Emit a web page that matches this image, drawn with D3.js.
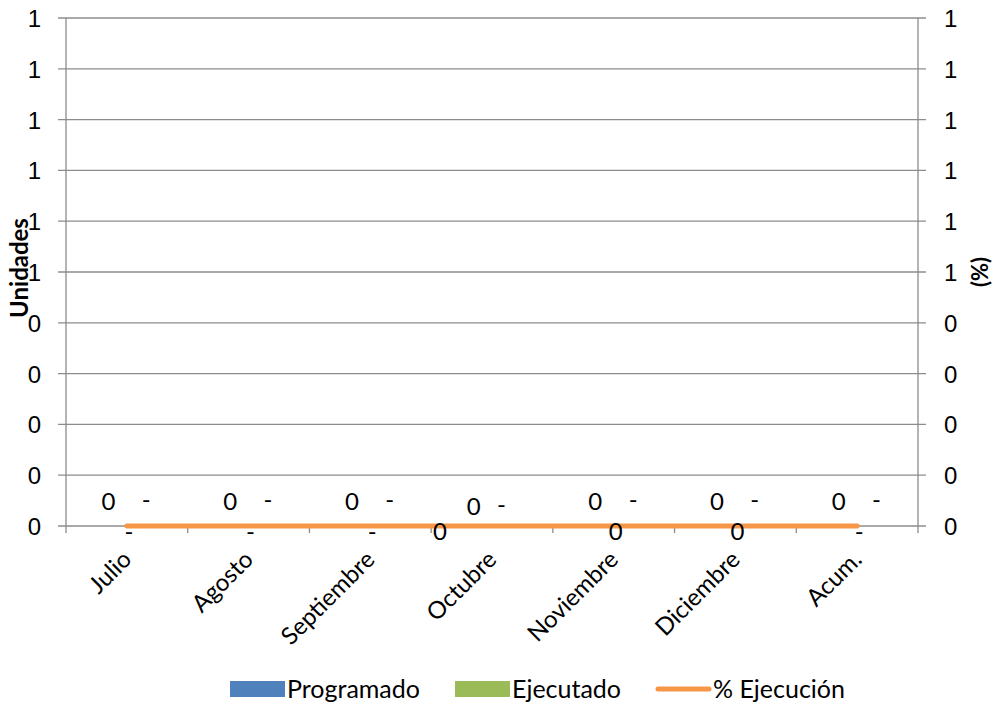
<!DOCTYPE html>
<html>
<head>
<meta charset="utf-8">
<style>
  body { margin: 0; background: #fff; }
  svg { font-family: Lato, "Open Sans", sans-serif; }
  .tick text { font-size: 24px; fill: #000; }
</style>
</head>
<body>
<div id="chart"></div>
<script src="https://d3js.org/d3.v7.min.js"></script>
<script>
  var categories = ["Julio", "Agosto", "Septiembre", "Octubre", "Noviembre", "Diciembre", "Acum."];
  var programado = [0, 0, 0, 0, 0, 0, 0];
  var ejecutado = [0, 0, 0, 0, 0, 0, 0];
  var ejecutadoLabels = ["-", "-", "-", "-", "-", "-", "-"];
  var ejecucion = [0, 0, 0, 0, 0, 0, 0];
  var ejecucionLabels = ["-", "-", "-", "0", "0", "0", "-"];
  var leftTicks = [0, 0.1, 0.2, 0.3, 0.4, 0.5, 0.6, 0.7, 0.8, 0.9, 1];
  var rightTicks = [0, 0.1, 0.2, 0.3, 0.4, 0.5, 0.6, 0.7, 0.8, 0.9, 1];

  var W = 996, H = 705;
  var margin = { top: 18, right: 78, bottom: 179, left: 66 },
    width = W - margin.left - margin.right,
    height = H - margin.top - margin.bottom;

  var colors = { prog: "#4F81BD", ejec: "#9BBB59", pct: "#F79646" };
  var fs = 24;

  // Excel moved a few labels around to avoid collisions
  var nudge = {
    "Octubre": { prog: [0, 5], ejec: [-10, 5], pct: [-54, 0] }
  };
  function nd(cat, key) {
    return (nudge[cat] && nudge[cat][key]) || [0, 0];
  }

  var svg = d3.select("#chart").append("svg")
    .attr("width", W)
    .attr("height", H);

  var g = svg.append("g")
    .attr("transform", "translate(" + margin.left + "," + margin.top + ")");

  var x = d3.scaleBand().domain(categories).range([0, width]);
  var x1 = d3.scaleBand().domain(["prog", "ejec"]).range([0, x.bandwidth()])
    .paddingInner(0).paddingOuter(0.75);
  var y = d3.scaleLinear().domain([0, 1]).range([height, 0]);
  var y2 = d3.scaleLinear().domain([0, 1]).range([height, 0]);

  // gridlines
  g.append("g").selectAll("line")
    .data(leftTicks)
    .enter().append("line")
    .attr("x1", -8).attr("x2", width + 8)
    .attr("y1", function(d) { return y(d); })
    .attr("y2", function(d) { return y(d); })
    .attr("stroke", "#8c8c8c")
    .attr("stroke-width", 1.3);

  // left axis
  var yAxis = d3.axisLeft(y).tickValues(leftTicks)
    .tickSize(0).tickPadding(25)
    .tickFormat(function(d) { return Math.round(d); });
  var ya = g.append("g").call(yAxis);
  ya.select(".domain").remove();
  ya.selectAll("text").attr("dy", "0.35em");

  // right axis
  var y2Axis = d3.axisRight(y2).tickValues(rightTicks)
    .tickSize(0).tickPadding(26)
    .tickFormat(function(d) { return Math.round(d); });
  var ya2 = g.append("g").attr("transform", "translate(" + width + ",0)").call(y2Axis);
  ya2.select(".domain").remove();
  ya2.selectAll("text").attr("dy", "0.35em");

  // vertical axis lines
  g.append("line").attr("x1", 0).attr("x2", 0).attr("y1", 0).attr("y2", height + 7)
    .attr("stroke", "#8c8c8c").attr("stroke-width", 1.3);
  g.append("line").attr("x1", width).attr("x2", width).attr("y1", 0).attr("y2", height + 7)
    .attr("stroke", "#8c8c8c").attr("stroke-width", 1.3);

  // x axis ticks at band boundaries
  g.append("g").selectAll("line")
    .data(categories.slice(1))
    .enter().append("line")
    .attr("x1", function(d) { return x(d); })
    .attr("x2", function(d) { return x(d); })
    .attr("y1", height).attr("y2", height + 7)
    .attr("stroke", "#8c8c8c").attr("stroke-width", 1.3);

  // x labels
  g.append("g").selectAll("text")
    .data(categories)
    .enter().append("text")
    .attr("transform", function(d) {
      return "translate(" + (x(d) + x.bandwidth() / 2 + 6) + "," + (height + 35) + ") rotate(-45)";
    })
    .attr("text-anchor", "end")
    .attr("font-size", fs)
    .attr("fill", "#000")
    .text(function(d) { return d; });

  // bars
  var rows = categories.map(function(c, i) {
    return { cat: c, prog: programado[i], ejec: ejecutado[i], ejecLabel: ejecutadoLabels[i],
      pct: ejecucion[i], pctLabel: ejecucionLabels[i] };
  });

  var grp = g.append("g").selectAll("g")
    .data(rows)
    .enter().append("g")
    .attr("transform", function(d) { return "translate(" + x(d.cat) + ",0)"; });

  grp.append("rect")
    .attr("x", x1("prog"))
    .attr("width", x1.bandwidth())
    .attr("y", function(d) { return y(d.prog); })
    .attr("height", function(d) { return height - y(d.prog); })
    .attr("fill", colors.prog);

  grp.append("rect")
    .attr("x", x1("ejec"))
    .attr("width", x1.bandwidth())
    .attr("y", function(d) { return y(d.ejec); })
    .attr("height", function(d) { return height - y(d.ejec); })
    .attr("fill", colors.ejec);

  grp.append("text")
    .attr("x", function(d) { return x1("prog") + x1.bandwidth() / 2 - 1 + nd(d.cat, "prog")[0]; })
    .attr("y", function(d) { return y(d.prog) - 16 + nd(d.cat, "prog")[1]; })
    .attr("text-anchor", "middle")
    .attr("font-size", fs)
    .text(function(d) { return d.prog; });

  grp.append("text")
    .attr("x", function(d) { return x1("ejec") + x1.bandwidth() / 2 + 2 + nd(d.cat, "ejec")[0]; })
    .attr("y", function(d) { return y(d.ejec) - 18 + nd(d.cat, "ejec")[1]; })
    .attr("text-anchor", "middle")
    .attr("font-size", fs)
    .text(function(d) { return d.ejecLabel; });

  // % Ejecucion line
  var line = d3.line()
    .x(function(d) { return x(d.cat) + x.bandwidth() / 2; })
    .y(function(d) { return y2(d.pct); });

  g.append("path")
    .datum(rows)
    .attr("d", line)
    .attr("fill", "none")
    .attr("stroke", colors.pct)
    .attr("stroke-width", 5)
    .attr("stroke-linecap", "round");

  g.append("g").selectAll("text")
    .data(rows)
    .enter().append("text")
    .attr("x", function(d) { return x(d.cat) + x.bandwidth() / 2 + 2 + nd(d.cat, "pct")[0]; })
    .attr("y", function(d) { return y2(d.pct) + 14 + nd(d.cat, "pct")[1]; })
    .attr("text-anchor", "middle")
    .attr("font-size", fs)
    .text(function(d) { return d.pctLabel; });

  // axis titles
  svg.append("text")
    .attr("transform", "translate(28,268) rotate(-90)")
    .attr("text-anchor", "middle")
    .attr("font-size", fs)
    .attr("font-weight", "bold")
    .text("Unidades");

  svg.append("text")
    .attr("transform", "translate(988,272) rotate(-90)")
    .attr("text-anchor", "middle")
    .attr("font-size", 22)
    .attr("font-weight", "bold")
    .text("(%)");

  // legend
  var legend = svg.append("g");
  var items = [
    { name: "Programado", color: colors.prog, type: "rect", x: 230 },
    { name: "Ejecutado", color: colors.ejec, type: "rect", x: 455 },
    { name: "% Ejecución", color: colors.pct, type: "line", x: 656 }
  ];
  items.forEach(function(it) {
    if (it.type === "rect") {
      legend.append("rect").attr("x", it.x).attr("y", 681).attr("width", 55).attr("height", 16)
        .attr("fill", it.color);
    } else {
      legend.append("line").attr("x1", it.x + 2).attr("x2", it.x + 53).attr("y1", 689).attr("y2", 689)
        .attr("stroke", it.color).attr("stroke-width", 5).attr("stroke-linecap", "round");
    }
    legend.append("text").attr("x", it.x + 57).attr("y", 698)
      .attr("font-size", 25)
      .text(it.name);
  });
</script>
</body>
</html>
